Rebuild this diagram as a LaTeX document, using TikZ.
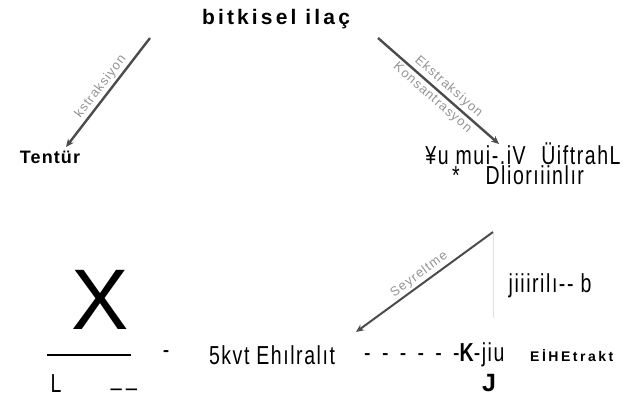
\documentclass[tikz,border=0pt]{standalone}
\usepackage{fontspec}
\setmainfont{Liberation Sans}
\newfontfamily\narrowf[FakeStretch=0.75,LetterSpace=6]{Liberation Sans}
\newfontfamily\titlef[LetterSpace=15]{Liberation Sans}
\newfontfamily\extf[LetterSpace=18]{Liberation Sans}
\newfontfamily\lspacedf[LetterSpace=6]{Liberation Sans}
\newfontfamily\labelf[LetterSpace=8]{Liberation Sans}
\usetikzlibrary{arrows.meta}
\begin{document}
\begin{tikzpicture}[x=1pt,y=-1pt,
  flow/.style={draw=black!70, line width=2.4pt, -{Stealth[length=8pt,width=7pt]}},
  arrlabel/.style={font=\labelf\fontsize{13}{14}\selectfont, text=black!42, inner sep=0.5pt},
  narrowtxt/.style={font=\narrowf\fontsize{26}{27}\selectfont, inner sep=0pt}]
\useasboundingbox (0,0) rectangle (628,401);
% title
\node[font=\titlef\bfseries\fontsize{21}{22}\selectfont, inner sep=0pt] (title) at (276,19) {bitkisel ilaç};
% left arrow
\coordinate (la1) at (150,38);
\coordinate (la2) at (66,147);
\draw[flow] (la1) -- node[arrlabel, sloped, above=1.5pt, pos=0.5] {kstraksiyon} (la2);
% right arrow
\coordinate (ra1) at (378,38);
\coordinate (ra2) at (499,144);
\draw[flow] (ra1) -- node[arrlabel, sloped, above=2pt, pos=0.53] {Ekstraksiyon} node[arrlabel, sloped, below=2pt, pos=0.5] {Konsantrasyon} (ra2);
% Tentur
\node[font=\bfseries\lspacedf\fontsize{18}{19}\selectfont, inner sep=0pt] (tentur) at (50,157) {Tentür};
% right texts
\node[narrowtxt, anchor=base] (r1) at (523,164) {¥u mui-.iV\,\, ÜiftrahL};
\node[narrowtxt, anchor=base] (r2) at (518,184) {*\quad Dliorıiinlır};
% lower arrow
\coordinate (sa1) at (493,232);
\coordinate (sa2) at (356,332);
\draw[flow, line width=2pt] (sa1) -- node[arrlabel, sloped, above=1.5pt, pos=0.5] {Seyreltme} (sa2);
\coordinate (v1) at (493,233);
\coordinate (v2) at (493,318);
\draw[black!12, line width=0.6pt] (v1) -- (v2);
\node[narrowtxt, anchor=base] (jb) at (550,292) {jiiirilı-- b};
% X and line
\node[font=\fontsize{86}{86}\selectfont, inner sep=0pt] (X) at (100,300) {X};
\coordinate (h1) at (47,355);
\coordinate (h2) at (131,355);
\draw[line width=1.6pt] (h1) -- (h2);
\node[narrowtxt] (dash1) at (166,355) {-};
\node[narrowtxt] (L) at (56,384) {L};
\node[narrowtxt] (us) at (124,388) {\_\,\_};
\node[narrowtxt] (ehil) at (272,355) {5kvt Ehılralıt};
\node[narrowtxt, anchor=west] (dashes) at (364,355) {-\, -\, -\, -\, -\, -{\bfseries K}-jiu};
\node[font=\extf\bfseries\fontsize{14}{15}\selectfont, inner sep=0pt, anchor=west] (ext) at (530,356) {EİHEtrakt};
\node[font=\bfseries\fontsize{25}{25}\selectfont, inner sep=0pt] (J) at (489,383) {J};
\end{tikzpicture}
\end{document}
